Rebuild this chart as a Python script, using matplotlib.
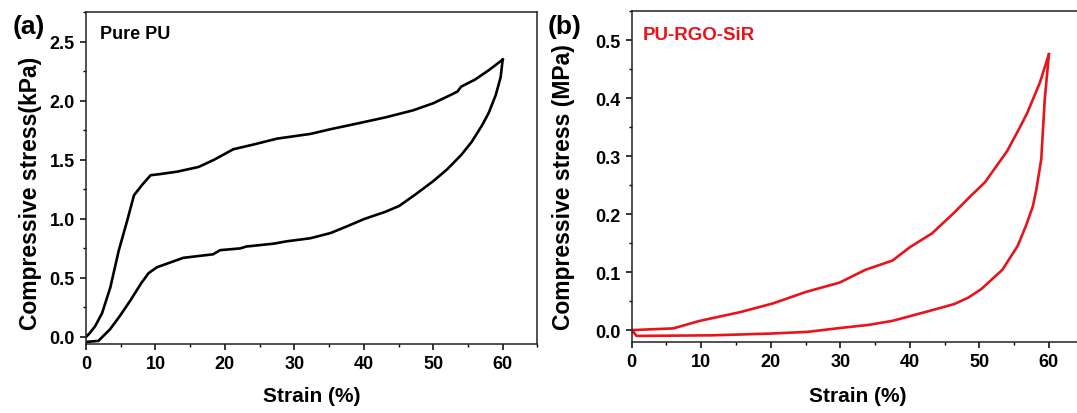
import matplotlib
matplotlib.use("Agg")
import matplotlib.pyplot as plt
from matplotlib.ticker import MultipleLocator

plt.rcParams['font.family'] = ['Liberation Sans', 'DejaVu Sans']
plt.rcParams['font.weight'] = 'bold'

# Panel (a): Pure PU (kPa)
pu_load_strain = [0, 0.5, 1.3, 2.3, 3.5, 4.7, 5.9, 6.9, 8.1, 9.3, 10.7, 13.1, 16.2, 18.4,
                  21.2, 24.1, 27.5, 32.3, 35.2, 39.2, 43.1, 47.1, 50.0, 52.5, 53.5, 54.0,
                  56.0, 58.0, 60.0]
pu_load_stress = [0, 0.03, 0.09, 0.2, 0.42, 0.73, 0.98, 1.2, 1.29, 1.37, 1.38, 1.40, 1.44,
                  1.50, 1.59, 1.63, 1.68, 1.72, 1.76, 1.81, 1.86, 1.92, 1.98, 2.05, 2.08,
                  2.12, 2.18, 2.26, 2.35]
pu_unload_strain = [60.0, 59.7, 59.0, 58.0, 57.0, 55.5, 54.0, 52.0, 50.0, 47.5, 45.1, 43.1,
                    40.1, 37.7, 35.2, 32.3, 28.9, 27.0, 23.1, 22.2, 19.3, 18.3, 14.0, 10.2,
                    9.0, 8.0, 6.34, 4.9, 3.46, 1.77, 0.1, 0]
pu_unload_stress = [2.35, 2.2, 2.05, 1.9, 1.79, 1.65, 1.54, 1.42, 1.32, 1.21, 1.11, 1.06,
                    1.0, 0.94, 0.88, 0.836, 0.81, 0.79, 0.766, 0.75, 0.735, 0.70, 0.67, 0.59,
                    0.54, 0.46, 0.305, 0.18, 0.065, -0.034, -0.042, -0.04]

# Panel (b): PU-RGO-SiR (MPa)
sir_load_strain = [0, 6.0, 9.8, 15.6, 20.3, 25.1, 29.9, 33.6, 37.5, 40.0, 43.2, 46.4, 48.8,
                   50.8, 54.0, 55.7, 56.9, 58.7, 60.0]
sir_load_stress = [0, 0.003, 0.016, 0.031, 0.046, 0.066, 0.082, 0.104, 0.12, 0.143, 0.167,
                   0.203, 0.232, 0.255, 0.309, 0.347, 0.375, 0.427, 0.476]
sir_unload_strain = [60.0, 59.4, 58.9, 58.2, 57.7, 56.7, 55.5, 53.3, 50.3, 48.4, 46.4, 43.4,
                     40.0, 37.5, 34.1, 30.2, 25.3, 19.9, 11.5, 0.7, 0.3, 0]
sir_unload_stress = [0.476, 0.398, 0.295, 0.243, 0.214, 0.18, 0.145, 0.104, 0.071, 0.056,
                     0.045, 0.035, 0.024, 0.016, 0.009, 0.004, -0.003, -0.006, -0.009, -0.01,
                     -0.004, 0]

RED = '#e8141c'

fig = plt.figure(figsize=(10.77, 4.14), dpi=100)
ax1 = fig.add_axes([0.0799, 0.1667, 0.4191, 0.801])
ax2 = fig.add_axes([0.5865, 0.1722, 0.4197, 0.798])

def style(ax):
    for s in ax.spines.values():
        s.set_linewidth(1.1)
        s.set_color('#222222')
    ax.tick_params(axis='both', which='major', direction='out', length=4.5, width=1.1,
                   labelsize=13, pad=3.5, top=False, right=False)
    ax.tick_params(axis='both', which='minor', direction='out', length=2.5, width=1.0,
                   top=False, right=False)
    for lab in ax.get_xticklabels() + ax.get_yticklabels():
        lab.set_fontweight('bold')

ax1.plot(pu_load_strain, pu_load_stress, color='black', lw=1.9)
ax1.plot(pu_unload_strain, pu_unload_stress, color='black', lw=1.9)
ax1.set_xlim(0, 65)
ax1.set_ylim(-0.06, 2.75)
ax1.xaxis.set_major_locator(MultipleLocator(10))
ax1.xaxis.set_minor_locator(MultipleLocator(5))
ax1.set_yticks([0, 0.5, 1.0, 1.5, 2.0, 2.5])
ax1.set_yticklabels(['0.0', '0.5', '1.0', '1.5', '2.0', '2.5'])
ax1.yaxis.set_minor_locator(MultipleLocator(0.25))
style(ax1)
ax1.set_xlabel('Strain (%)', fontsize=15, fontweight='bold')
ax1.set_ylabel('Compressive stress(kPa)', fontsize=16.5, fontweight='bold')
ax1.xaxis.set_label_coords(0.5, -0.128)
ax1.yaxis.set_label_coords(-0.0975, 0.458)
ax1.text(0.031, 0.9376, 'Pure PU', transform=ax1.transAxes, fontsize=13,
         fontweight='bold', va='center', ha='left', color='black')

ax2.plot(sir_load_strain, sir_load_stress, color=RED, lw=1.9)
ax2.plot(sir_unload_strain, sir_unload_stress, color=RED, lw=1.9)
ax2.set_xlim(0, 65)
ax2.set_ylim(-0.02, 0.55)
ax2.xaxis.set_major_locator(MultipleLocator(10))
ax2.xaxis.set_minor_locator(MultipleLocator(5))
ax2.set_yticks([0, 0.1, 0.2, 0.3, 0.4, 0.5])
ax2.set_yticklabels(['0.0', '0.1', '0.2', '0.3', '0.4', '0.5'])
ax2.yaxis.set_minor_locator(MultipleLocator(0.05))
style(ax2)
ax2.set_xlabel('Strain (%)', fontsize=15, fontweight='bold')
ax2.set_ylabel('Compressive stress (MPa)', fontsize=16.5, fontweight='bold')
ax2.xaxis.set_label_coords(0.5, -0.135)
ax2.yaxis.set_label_coords(-0.125, 0.47)
ax2.text(0.025, 0.931, 'PU-RGO-SiR', transform=ax2.transAxes, fontsize=13.5,
         fontweight='bold', va='center', ha='left', color=RED)

fig.text(29 / 1077, 1 - 27 / 414, '(a)', fontsize=19, fontweight='bold',
         ha='center', va='center')
fig.text(565 / 1077, 1 - 27 / 414, '(b)', fontsize=19, fontweight='bold',
         ha='center', va='center')

fig.savefig('out.png', dpi=100)
